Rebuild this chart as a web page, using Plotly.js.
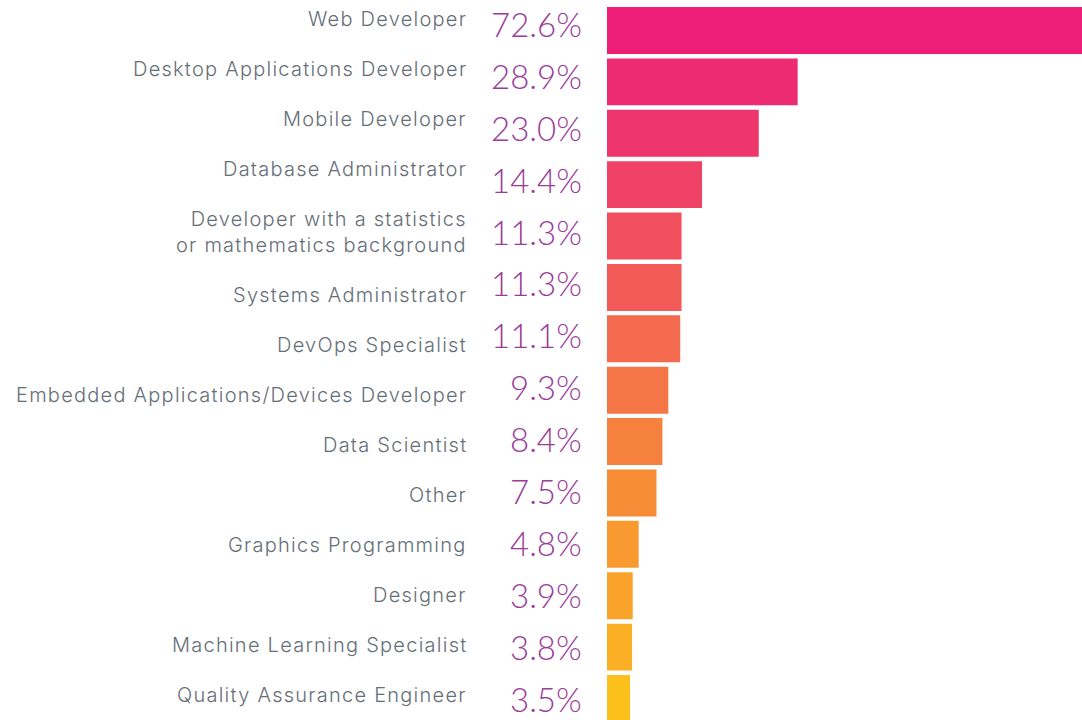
<!DOCTYPE html>
<html>
<head>
<meta charset="utf-8">
<script src="https://cdn.plot.ly/plotly-3.0.1.min.js"></script>
<style>html,body{margin:0;padding:0;background:#fff;}#chart{width:1082px;height:720px;}</style>
</head>
<body>
<div id="chart"></div>
<script>
var categories = [
  "Web Developer",
  "Desktop Applications Developer",
  "Mobile Developer",
  "Database Administrator",
  "Developer with a statistics<br>or mathematics background",
  "Systems Administrator",
  "DevOps Specialist",
  "Embedded Applications/Devices Developer",
  "Data Scientist",
  "Other",
  "Graphics Programming",
  "Designer",
  "Machine Learning Specialist",
  "Quality Assurance Engineer"
];
var values = [72.6, 28.9, 23.0, 14.4, 11.3, 11.3, 11.1, 9.3, 8.4, 7.5, 4.8, 3.9, 3.8, 3.5];
var barColors = ["#EC1E77","#ED2B72","#EE356C","#EF4266","#F04F5E","#F15A57","#F36A4F","#F47545","#F6803E","#F78C37","#F89A2F","#F9A32A","#FAAF25","#FCC01C"];

var idx = categories.map(function(_, i){ return i; });

var trace = {
  type: "bar",
  orientation: "h",
  x: values,
  y: idx,
  marker: {color: barColors, line: {width: 0}},
  hoverinfo: "none",
  cliponaxis: true
};

var LINE_H = 26;
var annotations = [];
var extraLines = 0;
categories.forEach(function(c, i){
  var lines = c.split("<br>");
  var styled = lines.map(function(s){
    return '<span style="letter-spacing:1.25px">' + s + '</span>';
  }).join("<br>");
  annotations.push({
    xref: "paper", yref: "y2", x: -0.2912, y: i,
    xanchor: "right", yanchor: "top", align: "right",
    yshift: LINE_H / 2 + 1 - extraLines * LINE_H, showarrow: false, text: styled,
    font: {family: "Inter, sans-serif", size: 20, weight: 300, color: "#666E77"}
  });
  extraLines += lines.length - 1;
  annotations.push({
    xref: "paper", yref: "y3", x: -0.0484, y: i,
    xanchor: "right", yanchor: "middle", align: "right",
    showarrow: false, text: values[i].toFixed(1) + "%",
    font: {family: "Lato, sans-serif", size: 33, weight: 300, color: "#9B3C9B"}
  });
});

var layout = {
  width: 1082, height: 720,
  margin: {l: 607, r: 0, t: 0, b: 0},
  paper_bgcolor: "#fff", plot_bgcolor: "#fff",
  bargap: 0.086,
  showlegend: false,
  xaxis: {range: [0, 72], visible: false, fixedrange: true},
  yaxis: {range: [13.418, -0.593], visible: false, fixedrange: true},
  yaxis2: {range: [14.02, -0.38], overlaying: "y", visible: false, fixedrange: true},
  yaxis3: {range: [13.41, -0.462], overlaying: "y", visible: false, fixedrange: true},
  annotations: annotations
};

Plotly.newPlot("chart", [trace], layout, {displayModeBar: false, staticPlot: true});
</script>
</body>
</html>
